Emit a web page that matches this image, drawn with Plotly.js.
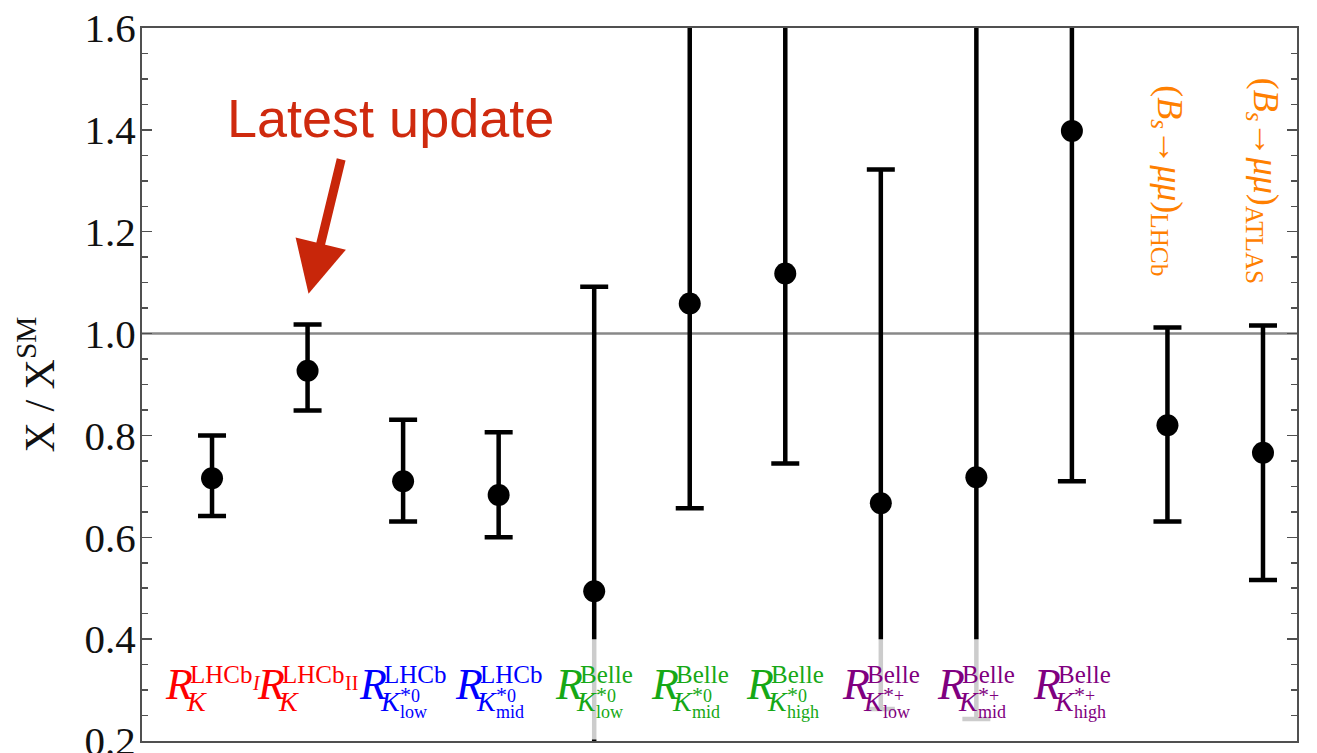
<!DOCTYPE html>
<html><head><meta charset="utf-8">
<script src="https://cdn.plot.ly/plotly-3.0.1.min.js"></script>
<style>html,body{margin:0;padding:0;background:#fff;}#chart{width:1317px;height:753px;}</style>
</head><body><div id="chart"></div>
<script>
// ---- data ----
const xPos = [1,2,3,4,5,6,7,8,9,10,11,12];
const centralValues = [0.716,0.927,0.710,0.683,0.494,1.059,1.118,0.667,0.718,1.398,0.820,0.766];
const upperValues   = [0.800,1.018,0.831,0.806,1.092,1.690,1.730,1.322,1.710,3.390,1.012,1.016];
const lowerValues   = [0.642,0.849,0.631,0.600,0.190,0.657,0.745,0.263,0.243,0.710,0.631,0.516];
const smValue = 1.0;

const labelSup    = ['LHCb','LHCb','LHCb','LHCb','Belle','Belle','Belle','Belle','Belle','Belle'];
const labelSupSub = ['<i>I</i>','II','','','','','','','',''];
const labelKSup   = ['','','*0','*0','*0','*0','*0','*+','*+','*+'];
const labelKSub   = ['','','low','mid','low','mid','high','low','mid','high'];
const labelColors = ['#ff0000','#ff0000','#0000ff','#0000ff','#16a816','#16a816','#16a816','#800080','#800080','#800080'];
const bsLabels = ['(<i>B<sub>s</sub></i>→<i>μμ</i>)<sub>LHCb</sub>','(<i>B<sub>s</sub></i>→<i>μμ</i>)<sub>ATLAS</sub>'];
const bsColor = '#ff8000';
const noteText = 'Latest update';
const yTitle = 'X / X<sup>SM</sup>';

// ---- helpers ----
const SERIF = 'Liberation Serif, Times New Roman, serif';
const ctx = document.createElement('canvas').getContext('2d');
function plain(t){ return t.replace(/<[^>]+>/g,''); }
function tw(t,size,italic){ ctx.font=(italic?'italic ':'')+size+'px "Liberation Serif"'; return ctx.measureText(plain(t)).width; }

const sR=44,sSup=25,sK=28,sS=18;
const bR=42,bSup=58,bSupSub=51,bK=30,bKs=40,bKsub=23; // baselines, px above bottom axis
const dSup=25,dK=21,dKs=20;
function yshiftFor(base,size){ return base + 0.3375*size; }

const annotations=[];
function ann(x,text,size,italic,color,xshift,base){
  annotations.push({x:x,xref:'x',y:0.2,yref:'y',text:text,showarrow:false,
    xanchor:'left',yanchor:'middle',xshift:xshift,yshift:yshiftFor(base,size),
    borderpad:0,borderwidth:0,
    font:{family:SERIF,size:size,color:color,style:italic?'italic':'normal'}});
}
labelSup.forEach((sup,i)=>{
  const x=xPos[i], c=labelColors[i];
  const wSup=tw(sup,sSup,false), wSS=labelSupSub[i]?tw(labelSupSub[i],sS+2,false):0;
  const wK=tw('K',sK,true);
  const wKs=Math.max(labelKSup[i]?tw(labelKSup[i],sS,false):0, labelKSub[i]?tw(labelKSub[i],sS,false):0);
  const W=Math.max(dSup+wSup+wSS, labelKSup[i]?dK+dKs+wKs:dK+wK);
  const L=-W/2;
  ann(x,'R',sR,true,c,L,bR);
  ann(x,sup,sSup,false,c,L+dSup,bSup);
  if(labelSupSub[i]) ann(x,labelSupSub[i],sS+2,false,c,L+dSup+wSup,bSupSub);
  ann(x,'K',sK,true,c,L+dK,bK);
  if(labelKSup[i]) ann(x,labelKSup[i].replace('*','<span style="font-size:22px">*</span>'),sS,false,c,L+dK+dKs,bKs);
  if(labelKSub[i]) ann(x,labelKSub[i],sS,false,c,L+dK+dKs,bKsub);
});
bsLabels.forEach((t,j)=>{
  annotations.push({x:xPos[10+j],xref:'x',y:1.30,yref:'y',text:t,showarrow:false,textangle:90,
    xanchor:'center',yanchor:'middle',font:{family:SERIF,size:36,color:bsColor}});
});
// note + arrow
annotations.push({x:1.152,xref:'x',y:1.424,yref:'y',text:noteText,showarrow:false,xanchor:'left',yanchor:'middle',
  borderpad:0,borderwidth:0,font:{family:'Liberation Sans, Arial, sans-serif',size:54,color:'#cf2a0e'}});
annotations.push({x:2.01,xref:'x',y:1.078,yref:'y',text:'',showarrow:true,ax:33,ay:-136,
  arrowcolor:'#c8260a',arrowwidth:9,arrowhead:2,arrowsize:1.15,standoff:0});

const trace={x:xPos,y:centralValues,type:'scatter',mode:'markers',
  marker:{size:22,color:'#000'},
  error_y:{type:'data',symmetric:false,
    array:upperValues.map((u,i)=>u-centralValues[i]),
    arrayminus:lowerValues.map((l,i)=>centralValues[i]-l),
    color:'#000',thickness:4.5,width:14},
  hoverinfo:'none'};

const axLine='#505050';
const layout={
  width:1317,height:753,
  margin:{l:142,r:20,t:28,b:12,pad:0},
  paper_bgcolor:'#fff',plot_bgcolor:'#fff',
  showlegend:false,
  xaxis:{range:[0.267,12.356],showticklabels:false,ticks:'',showgrid:false,zeroline:false,
    showline:true,mirror:true,linecolor:axLine,linewidth:2},
  yaxis:{range:[0.2,1.6],tickmode:'linear',tick0:0.2,dtick:0.2,tickformat:'.1f',
    ticks:'inside',ticklen:10,tickwidth:1.5,tickcolor:axLine,ticklabeloverflow:'allow',
    ticklabelstandoff:-4,
    minor:{dtick:0.05,ticks:'inside',ticklen:6,tickwidth:1.5,tickcolor:axLine},
    showgrid:false,zeroline:false,showline:true,mirror:'ticks',linecolor:axLine,linewidth:2,
    tickfont:{family:SERIF,size:41,color:'#111'},
    title:{text:yTitle,font:{family:SERIF,size:42,color:'#111'},standoff:17}},
  shapes:[
    {type:'line',xref:'paper',x0:0,x1:1,yref:'y',y0:smValue,y1:smValue,layer:'below',
      line:{color:'#888',width:2.5}},
    {type:'rect',xref:'x',x0:0.6,x1:12,yref:'y',y0:0.203,y1:0.4,layer:'above',
      fillcolor:'rgba(255,255,255,0.8)',line:{width:0}}
  ],
  annotations:annotations
};
Plotly.newPlot('chart',[trace],layout,{displayModeBar:false,staticPlot:true});
</script></body></html>
